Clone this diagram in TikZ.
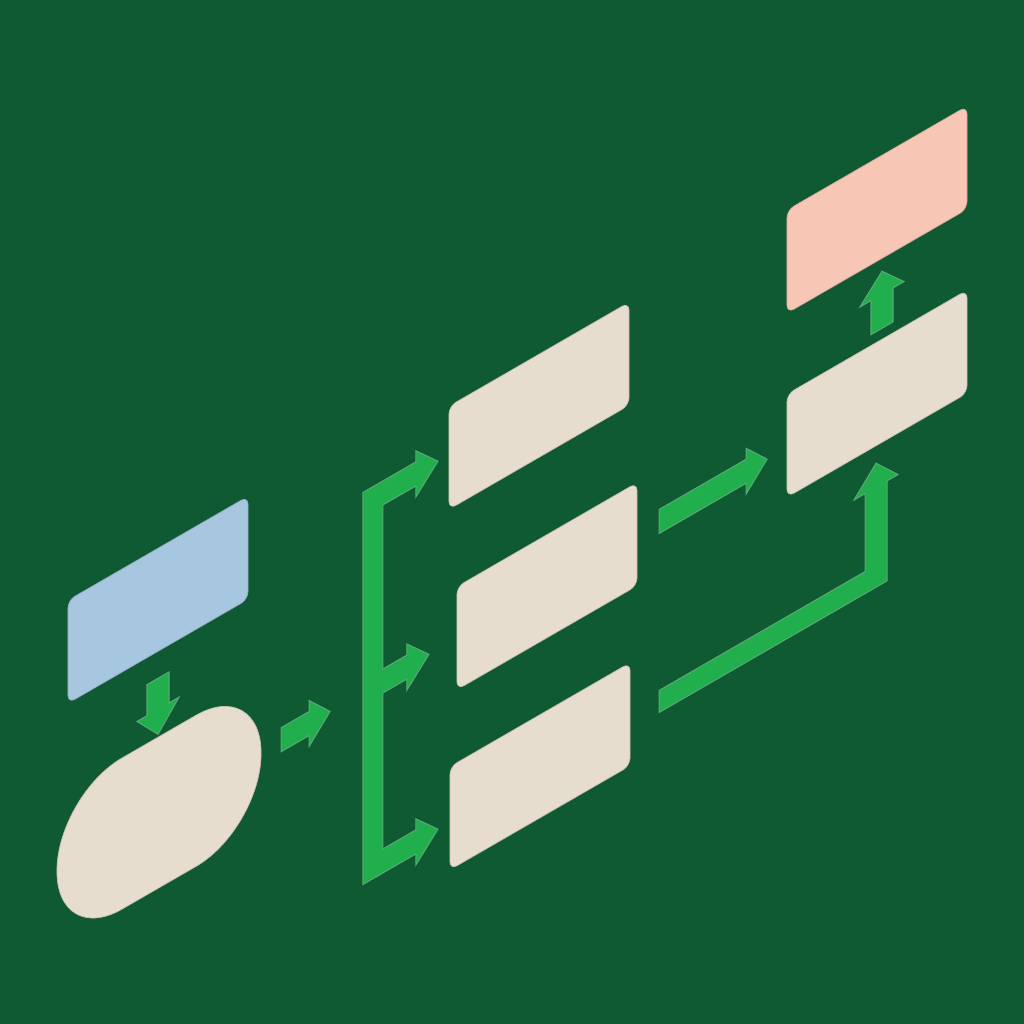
\documentclass[tikz,border=0pt]{standalone}
\usepackage{tikz}
\usetikzlibrary{calc}

\definecolor{boardgreen}{HTML}{0F5A32}
\definecolor{flowgreen}{HTML}{21AE4D}
\definecolor{flowedge}{HTML}{58A872}
\definecolor{cardfill}{HTML}{E6DDCF}
\definecolor{inputfill}{HTML}{A7C6DF}
\definecolor{outputfill}{HTML}{F8C6B5}

\tikzset{
    card/.style={shape=rectangle, fill=cardfill, draw=cardfill!85!black, line width=0.2pt,
        minimum width=1.8cm, minimum height=1.03cm, inner sep=0pt, outer sep=0pt,
        rounded corners=0.8mm, transform shape},
    input card/.style={card, fill=inputfill, draw=inputfill!85!black},
    output card/.style={card, fill=outputfill, draw=outputfill!85!black},
    terminal/.style={card, minimum width=2.04cm, minimum height=1.51cm, rounded corners=7.5mm},
    flow/.style={fill=flowgreen, draw=flowedge, line width=0.3pt, line join=miter}}

\begin{document}
\begin{tikzpicture}[x=0.01cm, y=-0.01cm]

    \fill[boardgreen] (0,0) rectangle (1024,1024);
    \useasboundingbox (0,0) rectangle (1024,1024);

    % isometric plane: local (u,v), right goes up at 30 degrees
    \begin{scope}[yslant=0.57735]

        \node[input card] (input) at (158,691) {};
        \node[terminal] (start) at (159,904) {};
        \node[card] (taskA) at (539,717) {};
        \node[card] (taskB) at (547,902) {};
        \node[card] (taskC) at (540,1078) {};
        \node[card] (merge) at (877,900) {};
        \node[output card] (result) at (877,716) {};

        % input -> start
        \fill[flow] ($(input.south)+(-11,27)$) -- ++(0,31) -- ++(-10,0) -- ++(21,25)
            -- ++(21,-25) -- ++(-10,0) -- ++(0,-31) -- cycle;

        % start -> fork
        \fill[flow] ($(start.east)+(20,-14)$) -- ++(28,0) -- ++(0,-11) -- ++(21,23)
            -- ++(-21,23) -- ++(0,-11) -- ++(-28,0) -- cycle;

        % fork into the three tasks
        \fill[flow] ($(taskA.west)+(-86,-15)$) -- ++(53,0) -- ++(0,-11) -- ++(22,23)
            -- ++(-22,23) -- ++(0,-11) -- ++(-33,0)
            -- ++(0,164) -- ++(24,0) -- ++(0,-11) -- ++(22,23)
            -- ++(-22,23) -- ++(0,-11) -- ++(-24,0)
            -- ++(0,156) -- ++(33,0) -- ++(0,-11) -- ++(22,23)
            -- ++(-22,23) -- ++(0,-11) -- ++(-53,0) -- cycle;

        % taskB -> merge
        \fill[flow] ($(taskB.east)+(22,-12)$) -- ++(87,0) -- ++(0,-11) -- ++(21,23)
            -- ++(-21,23) -- ++(0,-11) -- ++(-87,0) -- cycle;

        % taskC -> merge
        \fill[flow] ($(taskC.east)+(29,-7)$) -- ++(206,0) -- ++(0,-78) -- ++(-11,0)
            -- ++(22,-24) -- ++(22,24) -- ++(-11,0) -- ++(0,100) -- ++(-228,0) -- cycle;

        % merge -> result
        \fill[flow] ($(merge.north)+(-6,-11)$) -- ++(0,-34) -- ++(-11,0) -- ++(22,-23)
            -- ++(22,23) -- ++(-11,0) -- ++(0,34) -- cycle;

    \end{scope}

\end{tikzpicture}
\end{document}
